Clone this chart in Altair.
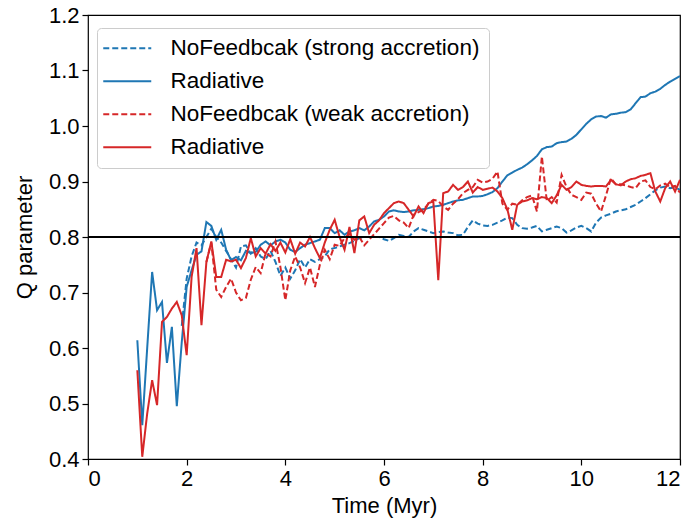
import altair as alt
import numpy as np
import pandas as pd

# Q parameter sampled every 0.1 Myr
t0_strong_rad = 1.0
q_strong_rad = [
    0.614, 0.461, 0.600, 0.737, 0.668, 0.683, 0.573, 0.638, 0.495, 0.610,
    0.710, 0.740, 0.768, 0.774, 0.827, 0.820, 0.795, 0.813, 0.777, 0.758,
    0.764, 0.758, 0.775, 0.771, 0.773, 0.786, 0.792, 0.785, 0.792, 0.795,
    0.790, 0.777, 0.773, 0.780, 0.786, 0.789, 0.792, 0.795, 0.816, 0.816,
    0.807, 0.812, 0.804, 0.810, 0.812, 0.816, 0.812, 0.819, 0.828, 0.831,
    0.837, 0.846, 0.848, 0.846, 0.845, 0.846, 0.848, 0.849, 0.850, 0.852,
    0.855, 0.856, 0.858, 0.861, 0.864, 0.866, 0.867, 0.870, 0.873, 0.873,
    0.874, 0.877, 0.881, 0.888, 0.900, 0.911, 0.916, 0.921, 0.925, 0.931,
    0.938, 0.946, 0.958, 0.962, 0.963, 0.969, 0.971, 0.972, 0.977, 0.984,
    0.994, 1.004, 1.012, 1.017, 1.018, 1.015, 1.021, 1.022, 1.024, 1.025,
    1.030, 1.041, 1.052, 1.053, 1.059, 1.062, 1.067, 1.074, 1.080, 1.085,
    1.090,
]

t0_strong_nofb = 1.9
q_strong_nofb = [
    0.640,
    0.725, 0.765, 0.790, 0.785, 0.800, 0.815, 0.800, 0.790, 0.775, 0.760,
    0.745, 0.783, 0.785, 0.770, 0.780, 0.765, 0.760, 0.775, 0.755, 0.730,
    0.745, 0.725, 0.740, 0.760, 0.745, 0.760, 0.755, 0.760, 0.765, 0.778,
    0.780, 0.783, 0.786, 0.789, 0.793, 0.798, 0.800, 0.800, 0.800, 0.800,
    0.796, 0.793, 0.798, 0.804, 0.802, 0.800, 0.810, 0.816, 0.813, 0.810,
    0.807, 0.809, 0.810, 0.808, 0.807, 0.803, 0.804, 0.818, 0.830, 0.824,
    0.821, 0.820, 0.822, 0.826, 0.830, 0.835, 0.834, 0.822, 0.816, 0.815,
    0.817, 0.820, 0.810, 0.813, 0.816, 0.819, 0.816, 0.808, 0.812, 0.817,
    0.820, 0.816, 0.810, 0.826, 0.835, 0.839, 0.842, 0.846, 0.848, 0.850,
    0.854, 0.858, 0.864, 0.870, 0.877, 0.884, 0.889, 0.891, 0.888, 0.890,
    0.885,
]

t0_weak_rad = 1.0
q_weak_rad = [
    0.560, 0.404, 0.482, 0.542, 0.497, 0.647, 0.656, 0.671, 0.683, 0.659,
    0.587, 0.728, 0.780, 0.641, 0.755, 0.792, 0.728, 0.728, 0.759, 0.756,
    0.759, 0.744, 0.762, 0.798, 0.765, 0.780, 0.770, 0.787, 0.775, 0.790,
    0.772, 0.796, 0.770, 0.790, 0.783, 0.800, 0.780, 0.762, 0.790, 0.813,
    0.831, 0.800, 0.777, 0.818, 0.771, 0.830, 0.837, 0.807, 0.822, 0.830,
    0.843, 0.852, 0.861, 0.864, 0.861, 0.849, 0.837, 0.855, 0.843, 0.861,
    0.864, 0.722, 0.879, 0.882, 0.894, 0.885, 0.890, 0.900, 0.880, 0.890,
    0.885, 0.887, 0.889, 0.882, 0.870, 0.850, 0.813, 0.858, 0.864, 0.866,
    0.870, 0.868, 0.872, 0.870, 0.861, 0.875, 0.894, 0.885, 0.890, 0.900,
    0.894, 0.892, 0.891, 0.892, 0.892, 0.891, 0.903, 0.895, 0.893, 0.900,
    0.904, 0.906, 0.910, 0.912, 0.915, 0.882, 0.864, 0.888, 0.900, 0.882,
    0.903,
]

t0_weak_nofb = 2.4
q_weak_nofb = [
    0.755, 0.790, 0.705, 0.692, 0.710, 0.725,
    0.700, 0.686, 0.690, 0.723, 0.746, 0.735, 0.771, 0.765, 0.792, 0.746,
    0.686, 0.740, 0.765, 0.745, 0.717, 0.745, 0.710, 0.750, 0.777, 0.760,
    0.786, 0.784, 0.798, 0.805, 0.795, 0.800, 0.785, 0.795, 0.805, 0.815,
    0.825, 0.835, 0.838, 0.830, 0.826, 0.816, 0.840, 0.845, 0.849, 0.860,
    0.867, 0.865, 0.855, 0.849, 0.860, 0.868, 0.879, 0.885, 0.890, 0.903,
    0.898, 0.900, 0.905, 0.918, 0.860, 0.849, 0.860, 0.858, 0.866, 0.872,
    0.875, 0.846, 0.945, 0.865, 0.872, 0.862, 0.912, 0.890, 0.876, 0.872,
    0.867, 0.880, 0.878, 0.860, 0.846, 0.875, 0.906, 0.895, 0.895, 0.893,
    0.890, 0.888, 0.900, 0.902, 0.890, 0.886, 0.893, 0.896, 0.890, 0.892,
    0.880,
]

runs = [
    "NoFeedbcak (strong accretion)",
    "Radiative (strong accretion)",
    "NoFeedbcak (weak accretion)",
    "Radiative (weak accretion)",
]
colors = ["#1f77b4", "#1f77b4", "#d62728", "#d62728"]
dashes = [[6, 3], [1, 0], [6, 3], [1, 0]]

x_ticks = [0, 2, 4, 6, 8, 10, 12]
y_ticks = [0.4, 0.5, 0.6, 0.7, 0.8, 0.9, 1.0, 1.1, 1.2]
q_threshold = 0.8


def series(name, t0, values):
    times = np.round(t0 + 0.1 * np.arange(len(values)), 1)
    return pd.DataFrame({"time": times, "q": values, "run": name})


df = pd.concat(
    [
        series(runs[0], t0_strong_nofb, q_strong_nofb),
        series(runs[1], t0_strong_rad, q_strong_rad),
        series(runs[2], t0_weak_nofb, q_weak_nofb),
        series(runs[3], t0_weak_rad, q_weak_rad),
    ],
    ignore_index=True,
)

FONT = "Liberation Sans"

# a long horizontal stroke drawn with a small symbol size keeps the rows compact
legend = alt.Legend(
    title=None,
    orient="none",
    legendX=9,
    legendY=13,
    symbolType="M-2.4,0L2.4,0",
    symbolSize=400,
    symbolOffset=10,
    symbolStrokeWidth=2,
    labelFont=FONT,
    labelFontSize=22.5,
    labelColor="black",
    labelOffset=32,
    labelLimit=500,
    rowPadding=10,
    padding=9,
    fillColor="white",
    strokeColor="#cccccc",
    cornerRadius=4,
    labelExpr="indexof(datum.label, 'Radiative') == 0 ? 'Radiative' : datum.label",
)

x_enc = alt.X(
    "time:Q",
    scale=alt.Scale(domain=[0, 12], nice=False),
    axis=alt.Axis(values=x_ticks, format="d", title="Time (Myr)"),
)
y_enc = alt.Y(
    "q:Q",
    scale=alt.Scale(domain=[0.4, 1.2], nice=False, zero=False),
    axis=alt.Axis(values=y_ticks, format=".1f", title="Q parameter"),
)
color_enc = alt.Color(
    "run:N", scale=alt.Scale(domain=runs, range=colors), legend=legend
)
dash_enc = alt.StrokeDash(
    "run:N", scale=alt.Scale(domain=runs, range=dashes), legend=legend
)

layers = []
for name in runs:
    layers.append(
        alt.Chart(df)
        .transform_filter(alt.datum.run == name)
        .mark_line(strokeWidth=2, clip=True)
        .encode(x=x_enc, y=y_enc, color=color_enc, strokeDash=dash_enc)
    )

threshold = (
    alt.Chart(df)
    .mark_rule(color="black", strokeWidth=2)
    .encode(y=alt.datum(q_threshold))
)

chart = (
    alt.layer(*layers, threshold)
    .properties(
        width=592,
        height=444,
        autosize=alt.AutoSizeParams(type="none"),
        padding={"left": 88, "top": 15, "right": 14, "bottom": 66},
        background="white",
    )
    .configure_view(stroke="black", strokeWidth=1.2)
    .configure_axis(
        grid=False,
        domain=False,
        tickColor="black",
        tickSize=6,
        tickWidth=1.2,
        labelFont=FONT,
        labelFontSize=22,
        labelColor="black",
        titleFont=FONT,
        titleFontSize=22,
        titleFontWeight="normal",
        titleColor="black",
        labelPadding=3,
    )
    .configure_axisX(titlePadding=6)
    .configure_axisY(titlePadding=12)
)

chart.save("out.html", embed_options={"renderer": "svg", "actions": False})
